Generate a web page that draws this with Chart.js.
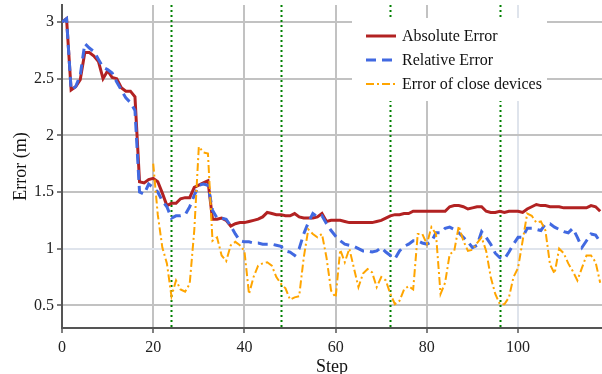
<!DOCTYPE html>
<html>
<head>
<meta charset="utf-8">
<script src="https://cdn.jsdelivr.net/npm/chart.js@4.4.1/dist/chart.umd.min.js"></script>
<style>
  html, body { margin: 0; padding: 0; background: #fff; }
  #wrap { width: 602px; height: 374px; position: relative; }
</style>
</head>
<body>
<div id="wrap"><canvas id="chart"></canvas></div>
<script>
var absoluteError = [
  3.00, 3.03, 2.40, 2.43, 2.49, 2.73, 2.73, 2.70, 2.65, 2.50,
  2.57, 2.51, 2.50, 2.42, 2.39, 2.39, 2.34, 1.59, 1.58, 1.61,
  1.62, 1.59, 1.49, 1.38, 1.40, 1.40, 1.44, 1.45, 1.45, 1.54,
  1.56, 1.58, 1.60, 1.26, 1.26, 1.27, 1.25, 1.20, 1.22, 1.23,
  1.23, 1.24, 1.25, 1.26, 1.28, 1.32, 1.31, 1.30, 1.30, 1.29,
  1.29, 1.31, 1.28, 1.27, 1.27, 1.27, 1.28, 1.31, 1.24, 1.25,
  1.25, 1.25, 1.24, 1.23, 1.23, 1.23, 1.23, 1.23, 1.23, 1.24,
  1.25, 1.27, 1.29, 1.30, 1.30, 1.31, 1.31, 1.33, 1.33, 1.33,
  1.33, 1.33, 1.33, 1.33, 1.33, 1.37, 1.38, 1.38, 1.37, 1.35,
  1.36, 1.37, 1.37, 1.33, 1.32, 1.32, 1.33, 1.32, 1.33, 1.33,
  1.33, 1.32, 1.35, 1.37, 1.39, 1.38, 1.38, 1.37, 1.37, 1.37,
  1.36, 1.36, 1.36, 1.36, 1.36, 1.36, 1.38, 1.37, 1.33
];
var relativeError = [
  3.00, 3.03, 2.40, 2.43, 2.53, 2.81, 2.77, 2.74, 2.67, 2.60,
  2.58, 2.55, 2.47, 2.40, 2.33, 2.29, 2.22, 1.50, 1.48, 1.57,
  1.54, 1.50, 1.42, 1.37, 1.27, 1.29, 1.29, 1.30, 1.37, 1.47,
  1.56, 1.57, 1.56, 1.34, 1.27, 1.27, 1.26, 1.20, 1.13, 1.07,
  1.06, 1.06, 1.05, 1.05, 1.04, 1.04, 1.04, 1.03, 1.02, 0.98,
  0.97, 0.94, 1.00, 1.13, 1.23, 1.31, 1.28, 1.29, 1.22, 1.16,
  1.11, 1.07, 1.04, 1.03, 1.02, 1.00, 0.98, 0.98, 0.97, 0.98,
  1.01, 0.97, 0.94, 0.91, 0.98, 1.02, 1.04, 1.07, 1.07, 1.05,
  1.04, 1.06, 1.14, 1.14, 1.18, 1.19, 1.17, 1.14, 1.10, 1.06,
  1.01, 1.03, 1.15, 1.10, 1.04, 0.96, 0.92, 0.91, 0.97, 1.04,
  1.10, 1.10, 1.18, 1.18, 1.17, 1.16, 1.22, 1.22, 1.19, 1.17,
  1.15, 1.14, 1.18, 1.10, 1.01, 1.07, 1.13, 1.12, 1.06
];
var closeDevicesError = [
  null, null, null, null, null, null, null, null, null, null,
  null, null, null, null, null, null, null, null, null, null,
  1.75, 1.30, 1.01, 0.87, 0.58, 0.72, 0.64, 0.62, 0.69, 1.16,
  1.90, 1.85, 1.84, 1.07, 1.10, 0.94, 0.89, 1.03, 1.06, 1.03,
  0.98, 0.60, 0.75, 0.85, 0.87, 0.88, 0.85, 0.75, 0.69, 0.65,
  0.55, 0.57, 0.58, 0.92, 1.17, 1.13, 1.10, 1.13, 0.92, 0.63,
  0.57, 0.99, 0.88, 1.00, 0.83, 0.66, 0.78, 0.82, 0.79, 0.66,
  0.75, 0.72, 0.60, 0.51, 0.54, 0.64, 0.67, 0.64, 1.13, 1.13,
  1.04, 1.19, 1.13, 0.60, 0.70, 0.95, 0.98, 1.20, 1.07, 0.98,
  0.99, 1.05, 1.10, 0.98, 0.75, 0.60, 0.51, 0.51, 0.57, 0.75,
  0.83, 1.07, 1.31, 1.29, 1.23, 1.24, 1.16, 0.86, 0.78, 1.00,
  0.96, 0.87, 0.80, 0.72, 0.83, 0.94, 0.94, 0.88, 0.70
];
var steps = absoluteError.map(function (v, i) { return i; });
var xTicks = [0, 20, 40, 60, 80, 100];
var yTicks = [0.5, 1, 1.5, 2, 2.5, 3];
var phaseSteps = [24, 48, 72, 96];
var seriesNames = ["Absolute Error", "Relative Error", "Error of close devices"];

var SERIF = "'Liberation Serif', 'Times New Roman', serif";

// green dotted separators, under the lines
var phaseLines = {
  id: "phaseLines",
  beforeDatasetsDraw: function (chart) {
    var ctx = chart.ctx, area = chart.chartArea, xs = chart.scales.x;
    ctx.save();
    ctx.strokeStyle = "#008000";
    ctx.lineWidth = 2;
    ctx.setLineDash([2, 3]);
    phaseSteps.forEach(function (s) {
      var x = Math.round(xs.getPixelForValue(s)) + 0.5;
      ctx.beginPath();
      ctx.moveTo(x, area.top);
      ctx.lineTo(x, area.bottom);
      ctx.stroke();
    });
    ctx.restore();
  }
};

// legend drawn by hand: white box in the top right corner
var legendBox = {
  id: "legendBox",
  afterDatasetsDraw: function (chart) {
    var ctx = chart.ctx, area = chart.chartArea;
    var left = area.right - 250, top = area.top + 13;
    ctx.save();
    ctx.fillStyle = "#fff";
    ctx.fillRect(left, top, 195, 83);
    chart.data.datasets.forEach(function (ds, i) {
      var y = top + 18 + i * 24;
      ctx.strokeStyle = ds.borderColor;
      ctx.lineWidth = ds.borderWidth;
      ctx.setLineDash(ds.borderDash || []);
      ctx.beginPath();
      ctx.moveTo(left + 14, y);
      ctx.lineTo(left + 44, y);
      ctx.stroke();
      ctx.setLineDash([]);
      ctx.fillStyle = "#111";
      ctx.font = "16px " + SERIF;
      ctx.textBaseline = "middle";
      ctx.textAlign = "left";
      ctx.fillText(ds.label, left + 50, y + 1);
    });
    ctx.restore();
  }
};

function gridColor(light) {
  return function (c) {
    return c.tick && c.tick.value === light ? "#dfe4ec" : "#c2c2c2";
  };
}

new Chart(document.getElementById("chart"), {
  type: "line",
  data: {
    labels: steps,
    datasets: [
      { label: seriesNames[0], data: absoluteError, borderColor: "#b22222", borderWidth: 3, order: 3 },
      { label: seriesNames[1], data: relativeError, borderColor: "#4169e1", borderWidth: 3, borderDash: [10, 6], order: 2 },
      { label: seriesNames[2], data: closeDevicesError, borderColor: "#ffa500", borderWidth: 2, borderDash: [8, 3, 2, 3], order: 1 }
    ]
  },
  options: {
    responsive: true,
    maintainAspectRatio: false,
    animation: false,
    layout: { padding: { top: 5, right: 0, left: 0, bottom: 0 } },
    elements: { point: { radius: 0 }, line: { tension: 0, borderCapStyle: "butt", fill: false } },
    plugins: { legend: { display: false }, tooltip: { enabled: false } },
    scales: {
      x: {
        type: "linear",
        min: 0,
        max: 118.4,
        afterBuildTicks: function (scale) {
          scale.ticks = xTicks.map(function (v) { return { value: v }; });
        },
        afterFit: function (scale) {
          scale.height = 46;
          scale.paddingLeft = 0;
          scale.paddingRight = 0;
        },
        grid: { color: gridColor(100), lineWidth: 2, tickLength: 5, tickColor: "#555", tickWidth: 1.5 },
        border: { color: "#555", width: 2 },
        ticks: { color: "#222", font: { family: SERIF, size: 16 }, padding: 5, maxRotation: 0 },
        title: { display: true, text: "Step", color: "#111", font: { family: SERIF, size: 18, lineHeight: 1 }, padding: { bottom: -2 } }
      },
      y: {
        min: 0.3,
        max: 3.15,
        afterBuildTicks: function (scale) {
          scale.ticks = yTicks.map(function (v) { return { value: v }; });
        },
        afterFit: function (scale) {
          scale.width = 62;
          scale.paddingTop = 0;
          scale.paddingBottom = 0;
        },
        grid: { color: gridColor(1), lineWidth: 2, tickLength: 5, tickColor: "#555", tickWidth: 1.5 },
        border: { color: "#555", width: 2 },
        ticks: {
          color: "#222",
          font: { family: SERIF, size: 16 },
          padding: 3,
          callback: function (v) { return String(v); }
        },
        title: { display: true, text: "Error (m)", color: "#111", font: { family: SERIF, size: 18, lineHeight: 1 }, padding: { top: 12 } }
      }
    }
  },
  plugins: [phaseLines, legendBox]
});
</script>
</body>
</html>
